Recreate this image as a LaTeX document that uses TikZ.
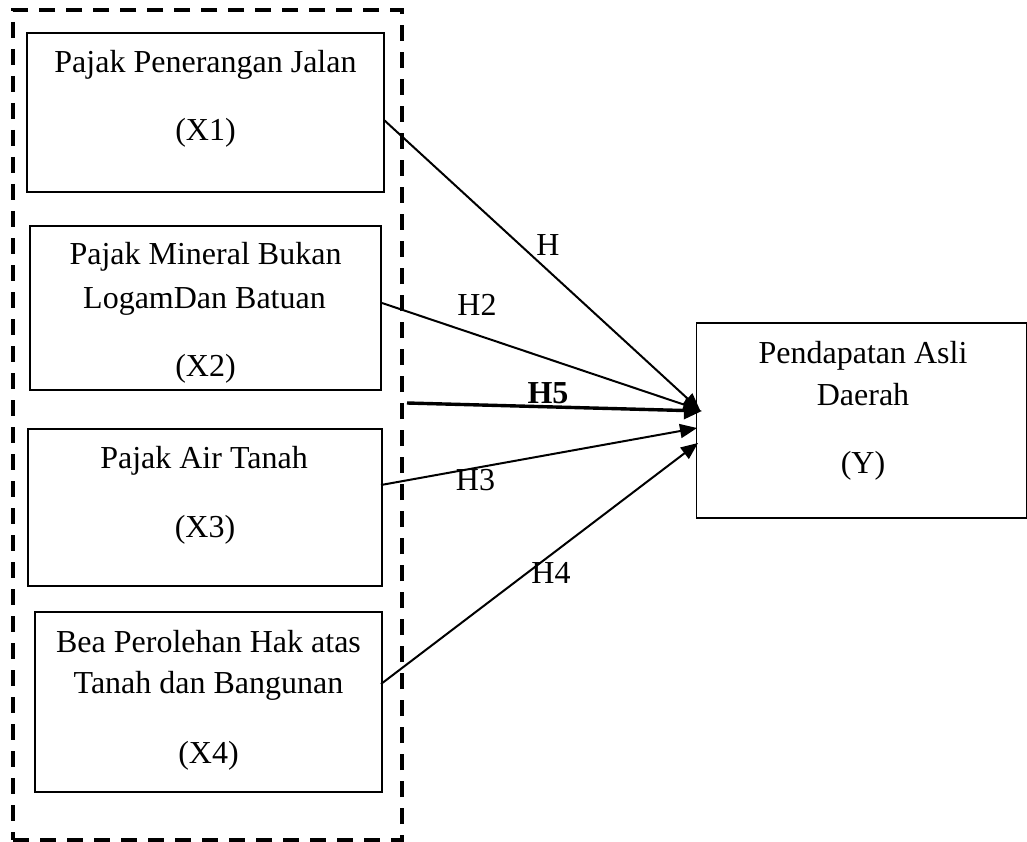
\documentclass[tikz,border=0pt]{standalone}
\usepackage{fontspec}
\setmainfont{Liberation Serif}
\usetikzlibrary{arrows.meta}
\tikzset{
  box/.style={draw, line width=1.2pt, inner sep=0pt, fill=none},
  grpbox/.style={draw, line width=4pt, dash pattern=on 16pt off 11pt, inner sep=0pt},
  txt/.style={anchor=base, inner sep=0pt, font=\fontsize{32}{38}\selectfont},
  lbl/.style={anchor=center, inner sep=0pt, font=\fontsize{32}{38}\selectfont},
  conn/.style={line width=2pt, -{Triangle[length=17pt, width=14pt]}},
  connbold/.style={line width=3.4pt, -{Triangle[length=18pt, width=17pt]}}
}
\begin{document}
\begin{tikzpicture}[x=1pt,y=-1pt]
\useasboundingbox (0,0) rectangle (1027,842);
% dashed group
\node[grpbox, minimum width=389pt, minimum height=830pt] (grp) at (207.5,425) {};
% boxes
\node[box, minimum width=357pt, minimum height=159pt] (x1) at (205.5,112.5) {};
\node[box, minimum width=351pt, minimum height=164pt] (x2) at (205.5,308) {};
\node[box, minimum width=354pt, minimum height=157pt] (x3) at (205,507.5) {};
\node[box, minimum width=347pt, minimum height=180pt] (x4) at (208.5,702) {};
\node[box, minimum width=330pt, minimum height=195pt] (y) at (861.5,420.5) {};
% texts
\node[txt] (x1a) at (205.5,73) {Pajak Penerangan Jalan};
\node[txt] (x1b) at (205.5,141) {(X1)};
\node[txt] (x2a) at (205.5,265) {Pajak Mineral Bukan};
\node[txt] (x2b) at (204.5,308) {LogamDan Batuan};
\node[txt] (x2c) at (205.5,376) {(X2)};
\node[txt] (x3a) at (204,468) {Pajak Air Tanah};
\node[txt] (x3b) at (205,537) {(X3)};
\node[txt] (x4a) at (208.5,652) {Bea Perolehan Hak atas};
\node[txt] (x4b) at (208.5,693) {Tanah dan Bangunan};
\node[txt] (x4c) at (208.5,763) {(X4)};
\node[txt] (ya) at (863,363) {Pendapatan Asli};
\node[txt] (yb) at (863,405) {Daerah};
\node[txt] (yc) at (863,473) {(Y)};
% connector labels
\node[lbl] (h1) at (548,245) {H};
\node[lbl] (h2) at (477,305) {H2};
\node[lbl, font=\fontsize{32}{38}\selectfont\bfseries] (h5) at (548,393) {H5};
\node[lbl] (h3) at (475.5,480) {H3};
\node[lbl] (h4) at (551,572.5) {H4};
% connector end points
\coordinate (s1) at (384,120);
\coordinate (s2) at (382,303);
\coordinate (s5) at (407,403);
\coordinate (s3) at (381,485);
\coordinate (s4) at (381,684);
\coordinate (e1) at (700,410);
\coordinate (e5) at (702,411);
\coordinate (e3) at (697,428);
\coordinate (e4) at (698,443);
% connectors
\draw[conn] (s1) -- (e1);
\draw[conn] (s2) -- (e1);
\draw[connbold] (s5) -- (e5);
\draw[conn] (s3) -- (e3);
\draw[conn] (s4) -- (e4);
\end{tikzpicture}
\end{document}
